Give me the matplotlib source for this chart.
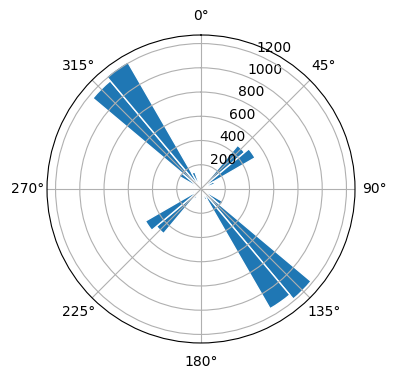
import numpy as np
import matplotlib
matplotlib.use("Agg")
import matplotlib.pyplot as plt

# direction bins (start of each 10 degree sector) and counts
bin_start_deg = list(range(0, 360, 10))
counts = [60, 50, 40, 80, 470, 515, 120, 50, 40, 40,
          50, 80, 210, 1185, 1140, 100, 50, 40, 40, 50,
          60, 100, 480, 530, 80, 40, 40, 40, 50, 80,
          210, 1165, 1210, 150, 60, 50]
bin_width_deg = 10

fig = plt.figure(figsize=(3.96, 3.8), dpi=100)
ax = fig.add_axes([0.1187, 0.0974, 0.7778, 0.8105], projection='polar')
ax.set_theta_zero_location('N')
ax.set_theta_direction(-1)

theta = np.deg2rad(bin_start_deg)
ax.bar(theta, counts, width=np.deg2rad(bin_width_deg), align='edge',
       color='#1f77b4', edgecolor='white', linewidth=1)

fig.savefig('out.png', dpi=100)
